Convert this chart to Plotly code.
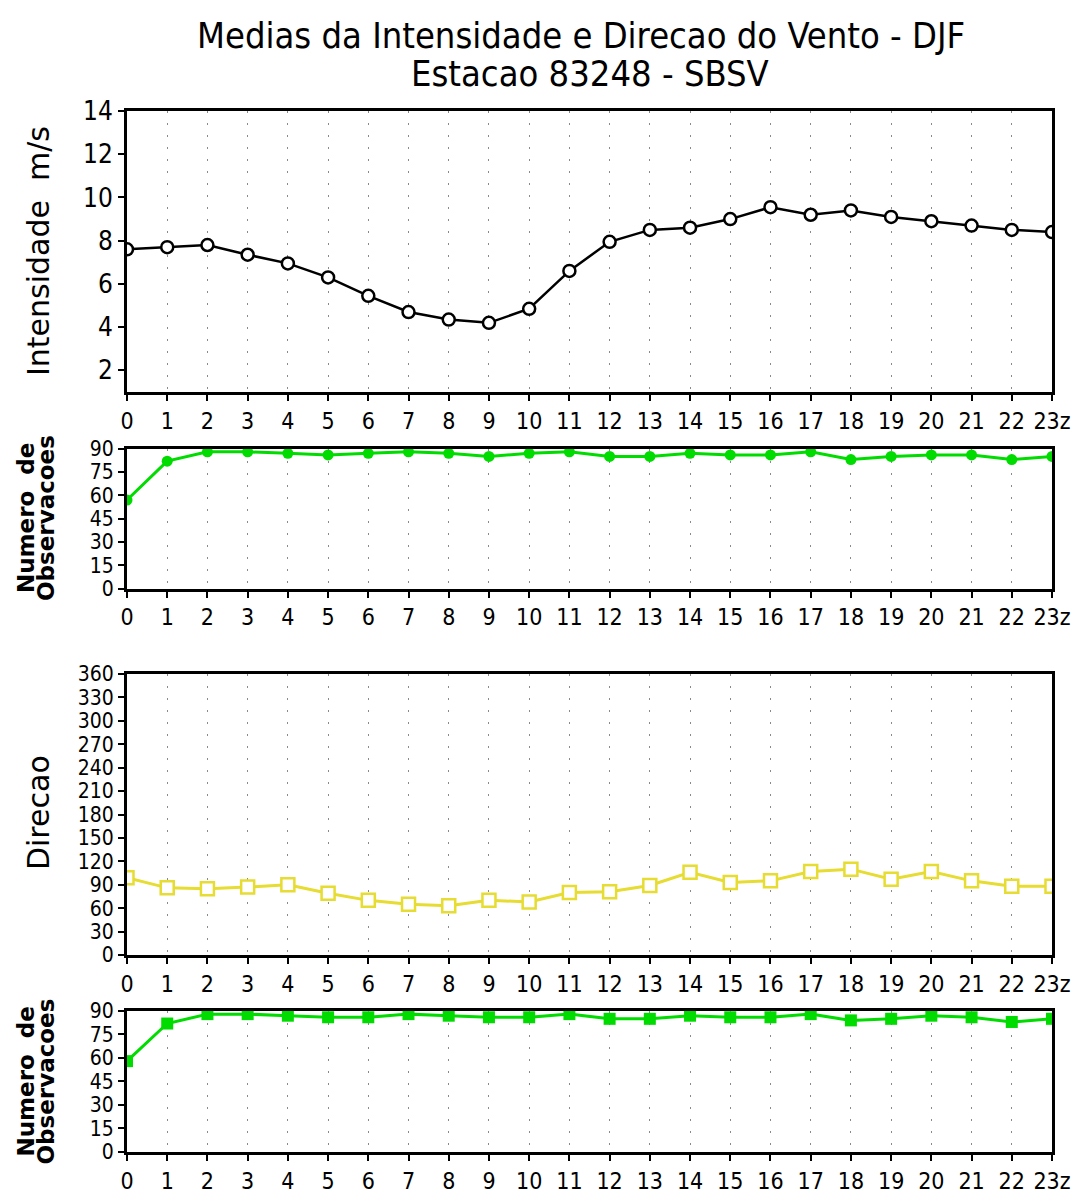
import plotly.graph_objects as go

# Hourly climatology (DJF) for station 83248 - SBSV
hours = list(range(24))
hour_labels = [str(h) for h in range(23)] + ["23z"]

# Mean wind speed (m/s)
speed = [7.6, 7.7, 7.8, 7.35, 6.95, 6.3, 5.45, 4.7, 4.35, 4.2, 4.85, 6.6,
         7.95, 8.5, 8.6, 9.0, 9.55, 9.2, 9.4, 9.1, 8.9, 8.7, 8.5, 8.4]

# Number of observations behind the speed means
speed_obs = [57, 82, 88, 88, 87, 86, 87, 88, 87, 85, 87, 88,
             85, 85, 87, 86, 86, 88, 83, 85, 86, 86, 83, 85]

# Mean wind direction (degrees)
direction = [99, 86, 85, 87, 90, 79, 70, 65, 63, 70, 68, 80,
             81, 89, 106, 93, 95, 107, 110, 97, 107, 95, 88, 88]

# Number of observations behind the direction means
dir_obs = [58, 82, 88, 88, 87, 86, 86, 88, 87, 86, 86, 88,
           85, 85, 87, 86, 86, 88, 84, 85, 87, 86, 83, 85]

GREEN = "#00dc00"
YELLOW = "#e6dc32"
NARROW = "DejaVu Sans Condensed, Liberation Sans Narrow, Liberation Sans, sans-serif"
SANS = "DejaVu Sans, Liberation Sans, sans-serif"

fig = go.Figure()

fig.add_trace(go.Scatter(
    x=hours, y=speed, mode="lines+markers", xaxis="x", yaxis="y",
    line=dict(color="black", width=2.5),
    marker=dict(symbol="circle", size=12, color="white",
                line=dict(color="black", width=2.5)),
))
fig.add_trace(go.Scatter(
    x=hours, y=speed_obs, mode="lines+markers", xaxis="x2", yaxis="y2",
    line=dict(color=GREEN, width=3),
    marker=dict(symbol="circle", size=11, color=GREEN),
))
fig.add_trace(go.Scatter(
    x=hours, y=direction, mode="lines+markers", xaxis="x3", yaxis="y3",
    line=dict(color=YELLOW, width=3),
    marker=dict(symbol="square", size=13, color="white",
                line=dict(color=YELLOW, width=2.5)),
))
fig.add_trace(go.Scatter(
    x=hours, y=dir_obs, mode="lines+markers", xaxis="x4", yaxis="y4",
    line=dict(color=GREEN, width=3),
    marker=dict(symbol="square", size=12, color=GREEN),
))

xaxis_style = dict(
    range=[0, 23], tickmode="array", tickvals=hours, ticktext=hour_labels,
    tickangle=0, automargin=False,
    ticks="outside", ticklen=6, tickwidth=2, tickcolor="black",
    showline=True, linecolor="black", linewidth=3, mirror=True,
    showgrid=True, gridcolor="#8a8a8a", gridwidth=1, griddash="2px,10px",
    zeroline=False, tickfont=dict(family=NARROW, size=23, color="black"),
)
yaxis_style = dict(
    ticks="outside", ticklen=6, tickwidth=2, tickcolor="black",
    showline=True, linecolor="black", linewidth=3, mirror=True,
    showgrid=False, zeroline=False, automargin=False, tickangle=0,
)

fig.update_layout(
    width=1085, height=1195,
    margin=dict(l=127, r=33, t=111, b=43),
    paper_bgcolor="white", plot_bgcolor="white",
    showlegend=False,
    xaxis=dict(xaxis_style, anchor="y"),
    xaxis2=dict(xaxis_style, anchor="y2"),
    xaxis3=dict(xaxis_style, anchor="y3"),
    xaxis4=dict(xaxis_style, anchor="y4"),
    yaxis=dict(yaxis_style, domain=[0.73007, 1.0], range=[1, 14],
               tickmode="array", tickvals=[2, 4, 6, 8, 10, 12, 14],
               tickfont=dict(family=NARROW, size=26, color="black"), anchor="x"),
    yaxis2=dict(yaxis_style, domain=[0.54112, 0.67560], range=[0, 90],
                tickmode="linear", tick0=0, dtick=15,
                tickfont=dict(family=NARROW, size=21, color="black"), anchor="x2"),
    yaxis3=dict(yaxis_style, domain=[0.18924, 0.45917], range=[0, 360],
                tickmode="linear", tick0=0, dtick=30,
                tickfont=dict(family=NARROW, size=21, color="black"), anchor="x3"),
    yaxis4=dict(yaxis_style, domain=[0.0, 0.13545], range=[0, 90],
                tickmode="linear", tick0=0, dtick=15,
                tickfont=dict(family=NARROW, size=21, color="black"), anchor="x4"),
)

def label(text, x, y, size, family, angle=0, bold=False):
    fig.add_annotation(
        text=f"<b>{text}</b>" if bold else text,
        x=x, y=y, xref="paper", yref="paper",
        xanchor="center", yanchor="middle", showarrow=False,
        textangle=angle, font=dict(family=family, size=size, color="black"),
    )

# Titles
label("Medias da Intensidade e Direcao do Vento - DJF", 0.4908, 1.0730, 36, NARROW)
label("Estacao 83248 - SBSV", 0.5, 1.0365, 36, NARROW)

# Axis titles
label("Intensidade&nbsp;&nbsp;m/s", -0.0962, 0.8655, 30, SANS, angle=-90)
label("Numero&nbsp;&nbsp;de", -0.1092, 0.6090, 23, SANS, angle=-90, bold=True)
label("Observacoes", -0.0876, 0.6090, 23, SANS, angle=-90, bold=True)
label("Direcao", -0.0962, 0.3256, 30, SANS, angle=-90)
label("Numero&nbsp;&nbsp;de", -0.1092, 0.0677, 23, SANS, angle=-90, bold=True)
label("Observacoes", -0.0876, 0.0677, 23, SANS, angle=-90, bold=True)

fig.write_html("out.html")
